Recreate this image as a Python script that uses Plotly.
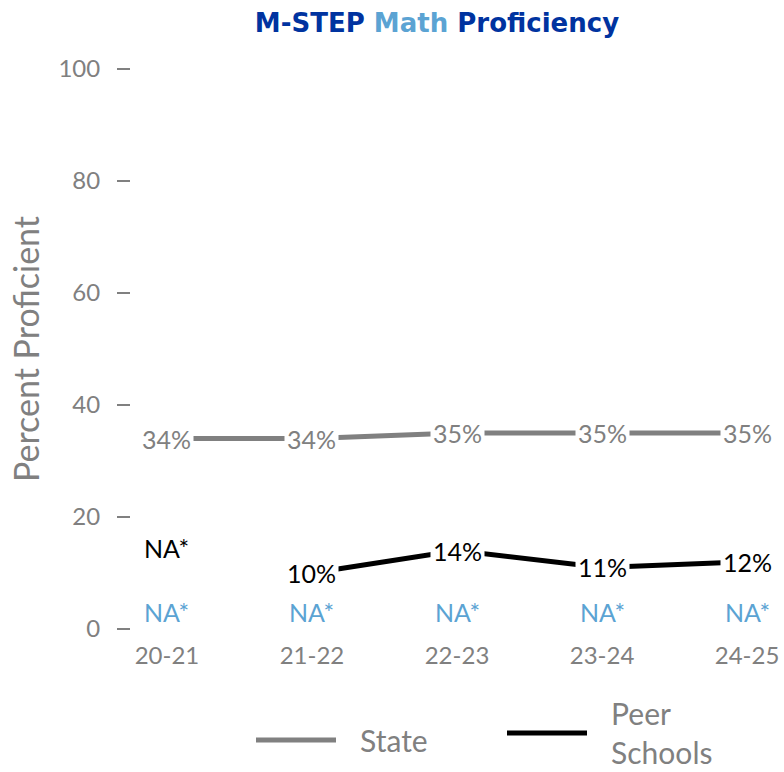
import plotly.graph_objects as go

years = ["20-21", "21-22", "22-23", "23-24", "24-25"]
state_vals = [34, 34, 35, 35, 35]
peer_vals = [None, 10, 14, 11, 12]
peer_na_pos = [14.5, None, None, None, None]
school_na_pos = [3, 3, 3, 3, 3]
y_ticks = [0, 20, 40, 60, 80, 100]

GRAY = "#808080"
BLACK = "#000000"
LBLUE = "#5BA3D3"
DBLUE = "#0033A0"
FONT = "Lato"
PAD = "\u00a0\u00a0\u2009"

fig = go.Figure()
fig.add_trace(go.Scatter(x=years, y=state_vals, mode="lines", name=PAD + "State",
                         line=dict(color=GRAY, width=5), legend="legend",
                         showlegend=True))
fig.add_trace(go.Scatter(x=years, y=peer_vals, mode="lines",
                         name=PAD + "Peer<br>" + PAD + "Schools",
                         line=dict(color=BLACK, width=5), connectgaps=False,
                         legend="legend2", showlegend=True))

anns = []
for x, v in zip(years, state_vals):
    anns.append(dict(x=x, y=v, text=f"{v}%", showarrow=False, bgcolor="white",
                     borderpad=2, font=dict(color=GRAY, size=25, family=FONT)))
for x, v, na in zip(years, peer_vals, peer_na_pos):
    if v is not None:
        anns.append(dict(x=x, y=v, text=f"{v}%", showarrow=False, bgcolor="white",
                         borderpad=2, font=dict(color=BLACK, size=25, family=FONT)))
    elif na is not None:
        anns.append(dict(x=x, y=na, text="NA*", showarrow=False, bgcolor="white",
                         borderpad=2, font=dict(color=BLACK, size=25, family=FONT)))
for x, na in zip(years, school_na_pos):
    anns.append(dict(x=x, y=na, text="NA*", showarrow=False,
                     font=dict(color=LBLUE, size=25, family=FONT)))


def legend_style(xpos, ypos):
    return dict(orientation="h", xanchor="left", xref="container",
                yanchor="middle", yref="container",
                x=xpos / 784, y=1 - ypos / 772,
                font=dict(size=30, color=GRAY, family=FONT),
                itemwidth=80, valign="middle", visible=True)


fig.update_layout(
    width=784, height=772,
    showlegend=True,
    margin=dict(l=131, r=10, t=69, b=143, autoexpand=False),
    plot_bgcolor="white", paper_bgcolor="white",
    font=dict(family=FONT, color=GRAY),
    title=dict(
        text=f"<b><span style='color:{DBLUE}'>M-STEP </span><span style='color:{LBLUE}'>Math</span><span style='color:{DBLUE}'> Proficiency</span></b>",
        x=437 / 784, xanchor="center", xref="container",
        y=1 - 23 / 772, yanchor="middle", yref="container",
        font=dict(size=26, family="DejaVu Sans", color=DBLUE)),
    xaxis=dict(type="category", range=[-0.248, 4.186], showgrid=False,
               zeroline=False, showline=False, ticks="", automargin=False,
               tickfont=dict(size=24, color=GRAY, family=FONT),
               ticklabelstandoff=10),
    yaxis=dict(range=[0, 100], tickvals=y_ticks, showgrid=False, zeroline=False,
               showline=False, ticks="outside", ticklen=13, tickwidth=2,
               tickcolor=GRAY, ticklabelstandoff=12, automargin=False,
               tickfont=dict(size=24, color=GRAY, family=FONT),
               title=dict(text="Percent Proficient", standoff=8,
                          font=dict(size=34, color=GRAY, family=FONT))),
    legend=legend_style(251, 740),
    legend2=legend_style(502, 733),
    annotations=anns,
)

fig.write_html("out.html", config={"displayModeBar": False},
               post_script="document.body.style.margin='0';document.body.style.overflow='hidden';")
